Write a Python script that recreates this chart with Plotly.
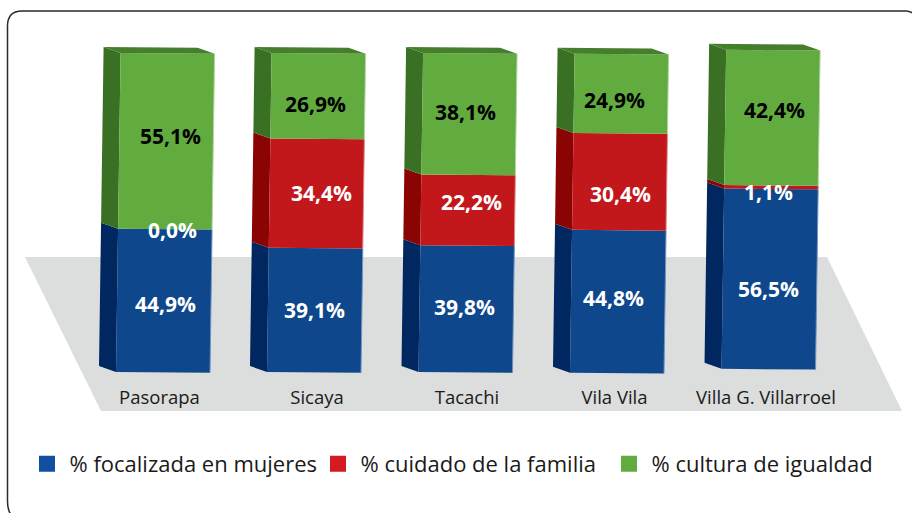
import plotly.graph_objects as go

categories = ["Pasorapa", "Sicaya", "Tacachi", "Vila Vila", "Villa G. Villarroel"]
focalizada = [44.9, 39.1, 39.8, 44.8, 56.5]
cuidado = [0.0, 34.4, 22.2, 30.4, 1.1]
cultura = [55.1, 26.9, 38.1, 24.9, 42.4]
series_names = ["% focalizada en mujeres", "% cuidado de la familia", "% cultura de igualdad"]

W, H = 912, 513
BASE_PX, PX_PER_PCT = 372.0, 3.19
front_c = ["#0e478c", "#c2181c", "#62ac3f"]
side_c = ["#002760", "#8b0404", "#3a7024"]
edge_c = ["#6f93c2", "#dc8a8c", "#b4d5a3"]
top_c = "#457f2e"
key_c = ["#11509f", "#d51a21", "#62ac3f"]

bar_left = [116.0, 267.0, 418.5, 570.0, 721.5]
bar_base = [0.0, 0.0, 0.0, -0.2, 1.0]
bar_w = 94.0
tilt = 0.046
dx, dy = -17.0, 6.0 / PX_PER_PCT
slope = 0.25

# label pixel nudges from the centre of each segment (x, y up)
shift_x = [[1.5, 7.5, 4.5], [-0.5, 4.5, -2.5], [-1.5, 3.5, -4], [-4.5, 0.5, -7], [-1, -3, 2]]
shift_y = [[-4, -1, 5], [0, 0, -8], [2, 8, 2], [3, -13, -7], [-10, -5, 7]]
tick_x = [159.5, 317, 467, 614.5, 766]


def fx(left, y):
    return left + tilt * y


fig = go.Figure()
for i, cat in enumerate(categories):
    left, b = bar_left[i], bar_base[i]
    raw = [focalizada[i], cuidado[i], cultura[i]]
    total = sum(raw)
    low = b
    for s, v in enumerate(raw):
        high = low + v / total * 100  # the stack is a 100 % column
        # side face
        fig.add_trace(go.Scatter(
            x=[fx(left, low), fx(left, high), fx(left, high) + dx, fx(left, low) + dx],
            y=[low, high, high + dy, low + dy],
            fill="toself", fillcolor=side_c[s], mode="lines", line=dict(width=0),
            showlegend=False, hoverinfo="skip"))
        # front face
        fig.add_trace(go.Scatter(
            x=[fx(left, low), fx(left, low) + bar_w, fx(left, high) + bar_w, fx(left, high)],
            y=[low, low - slope, high - slope, high],
            fill="toself", fillcolor=front_c[s], mode="lines", line=dict(width=0),
            showlegend=False, hoverinfo="skip"))
        # light right edge of the front face
        fig.add_trace(go.Scatter(
            x=[fx(left, low) + bar_w, fx(left, high) + bar_w],
            y=[low - slope, high - slope],
            mode="lines", line=dict(width=1, color=edge_c[s]),
            showlegend=False, hoverinfo="skip"))
        mid = (low + high) / 2
        fig.add_annotation(
            x=fx(left, mid) + bar_w / 2, y=mid, xref="x", yref="y",
            text=f"<b>{v:.1f}%</b>".replace(".", ","), showarrow=False,
            xshift=shift_x[i][s], yshift=shift_y[i][s],
            font=dict(family="Open Sans", size=21, color="#000000" if s == 2 else "#ffffff"))
        low = high
    # top face
    fig.add_trace(go.Scatter(
        x=[fx(left, low), fx(left, low) + bar_w, fx(left, low) + bar_w + dx, fx(left, low) + dx],
        y=[low, low - slope, low - slope + dy, low + dy],
        fill="toself", fillcolor=top_c, mode="lines", line=dict(width=0),
        showlegend=False, hoverinfo="skip"))

for s, name in enumerate(series_names):
    fig.add_trace(go.Scatter(
        x=[None], y=[None], mode="markers", name=name,
        marker=dict(symbol="square", size=18, color=key_c[s])))


def px(x):
    return x / W


def py(y):
    return 1 - y / H


floor = [(25, 257), (827, 257), (902, 411), (101, 411)]
floor_path = "M " + " L ".join(f"{px(a):.5f},{py(b):.5f}" for a, b in floor) + " Z"
frame_path = (
    f"M {px(12):.5f},{py(516):.5f} Q {px(7.5):.5f},{py(511):.5f} {px(7.5):.5f},{py(501):.5f} "
    f"L {px(7.5):.5f},{py(26):.5f} Q {px(7.5):.5f},{py(11):.5f} {px(22):.5f},{py(11):.5f} "
    f"L {px(906):.5f},{py(11):.5f} Q {px(910):.5f},{py(11):.5f} {px(914):.5f},{py(14):.5f}"
)

fig.update_layout(
    width=W, height=H, margin=dict(l=0, r=0, t=0, b=0, pad=0, autoexpand=False),
    paper_bgcolor="#ffffff", plot_bgcolor="rgba(0,0,0,0)", hovermode=False,
    font=dict(family="Open Sans", color="#1a1a1a"),
    xaxis=dict(range=[0, W], showgrid=False, zeroline=False, showline=False, fixedrange=True,
               tickmode="array", tickvals=tick_x, ticktext=categories, ticks="",
               anchor="free", position=py(384), tickfont=dict(size=18.5, color="#1a1a1a")),
    yaxis=dict(range=[(BASE_PX - H) / PX_PER_PCT, BASE_PX / PX_PER_PCT], visible=False, fixedrange=True),
    shapes=[
        dict(type="path", path=floor_path, xref="paper", yref="paper", fillcolor="#dcdddd",
             line=dict(width=0), layer="below"),
        dict(type="path", path=frame_path, xref="paper", yref="paper",
             line=dict(color="#2b2b2b", width=1.5), layer="below"),
    ],
    legend=dict(orientation="h", x=24.5 / W, y=py(464), xanchor="left", yanchor="middle",
                itemwidth=35, entrywidth=241, entrywidthmode="pixels", itemclick=False,
                itemdoubleclick=False, font=dict(family="Open Sans", size=22, color="#1a1a1a"),
                bgcolor="rgba(0,0,0,0)", tracegroupgap=0),
)

fig.write_html("out.html", config=dict(displayModeBar=False),
               post_script="document.body.style.margin='0';document.body.style.overflow='hidden';")
